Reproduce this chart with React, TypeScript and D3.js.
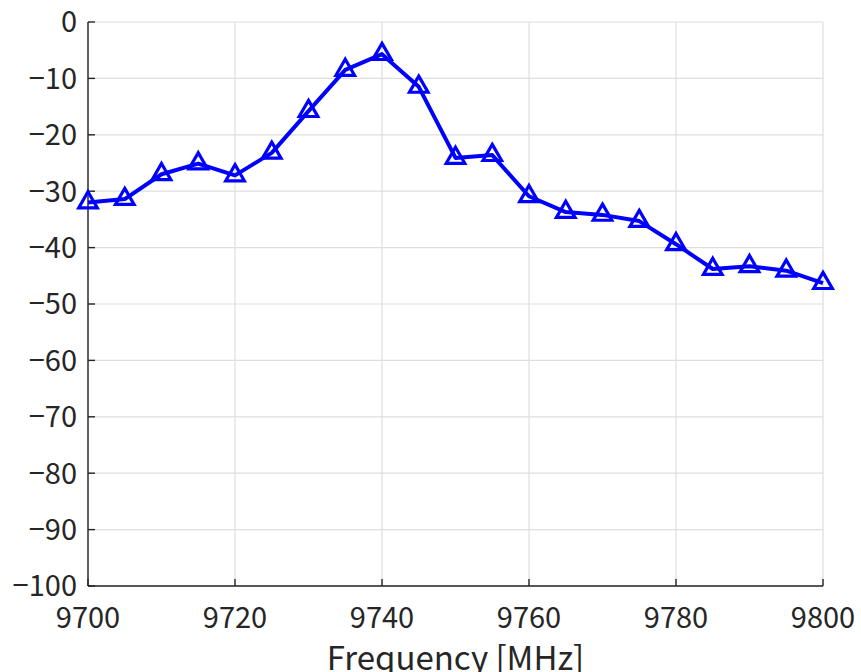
import * as d3 from "d3";

const W = 861;
const H = 672;
const margin = { top: 22, right: 38, bottom: 86, left: 88 };

const freqs = [9700, 9705, 9710, 9715, 9720, 9725, 9730, 9735, 9740, 9745, 9750,
  9755, 9760, 9765, 9770, 9775, 9780, 9785, 9790, 9795, 9800];
const levels = [-32.0, -31.4, -27.0, -25.1, -27.2, -23.2, -15.8, -8.5, -5.7, -11.5, -24.1,
  -23.6, -30.9, -33.7, -34.2, -35.3, -39.4, -43.8, -43.3, -44.1, -46.3];
const xTicks = [9700, 9720, 9740, 9760, 9780, 9800];
const yTicks = [0, -10, -20, -30, -40, -50, -60, -70, -80, -90, -100];

const font = "'Noto Sans CJK JP', 'Noto Sans', sans-serif";
const axisColor = "#262626";

export default function App() {
  const x = d3.scaleLinear().domain([9700, 9800]).range([margin.left, W - margin.right]);
  const y = d3.scaleLinear().domain([-100, 0]).range([H - margin.bottom, margin.top]);

  const line = d3.line<number>()
    .x((_, i) => x(freqs[i]))
    .y(d => y(d));

  const tri = d3.symbol().type(d3.symbolTriangle).size(150)();

  const fmt = (v: number) => (v < 0 ? "\u2212" + Math.abs(v) : String(v));

  return (
    <svg width={W} height={H} style={{ position: "absolute", left: 0, top: 0, background: "#fff" }}>
      {/* grid */}
      <g stroke="#dedede" strokeWidth={1.2}>
        {xTicks.map(t => (
          <line key={"gx" + t} x1={x(t)} x2={x(t)} y1={y(-100)} y2={y(0)} />
        ))}
        {yTicks.map(t => (
          <line key={"gy" + t} x1={x(9700)} x2={x(9800)} y1={y(t)} y2={y(t)} />
        ))}
      </g>

      {/* axes */}
      <g stroke={axisColor} strokeWidth={1.4} fill="none">
        <line x1={x(9700)} x2={x(9800)} y1={y(-100)} y2={y(-100)} />
        <line x1={x(9700)} x2={x(9700)} y1={y(-100)} y2={y(0)} />
        {xTicks.map(t => (
          <line key={"tx" + t} x1={x(t)} x2={x(t)} y1={y(-100)} y2={y(-100) - 7} />
        ))}
        {yTicks.map(t => (
          <line key={"ty" + t} x1={x(9700)} x2={x(9700) + 7} y1={y(t)} y2={y(t)} />
        ))}
      </g>

      <g fontFamily={font} fontSize={29} fill={axisColor}>
        {xTicks.map(t => (
          <text key={"lx" + t} x={x(t)} y={y(-100) + 42} textAnchor="middle">{t}</text>
        ))}
        {yTicks.map(t => (
          <text key={"ly" + t} x={x(9700) - 11} y={y(t)} dy="0.36em" textAnchor="end">{fmt(t)}</text>
        ))}
        <text x={(x(9700) + x(9800)) / 2} y={670} fontSize={33} textAnchor="middle">Frequency [MHz]</text>
        <text transform={`translate(-18,${(y(0) + y(-100)) / 2}) rotate(-90)`} fontSize={33} textAnchor="middle">
          Amplitude [dB]
        </text>
      </g>

      {/* series */}
      <path d={line(levels) || ""} fill="none" stroke="#0000ff" strokeWidth={4} strokeLinejoin="round" />
      {levels.map((v, i) => (
        <path key={"m" + i} d={tri || ""} transform={`translate(${x(freqs[i])},${y(v)})`}
          fill="none" stroke="#0000ff" strokeWidth={3.2} strokeLinejoin="miter" />
      ))}
    </svg>
  );
}
